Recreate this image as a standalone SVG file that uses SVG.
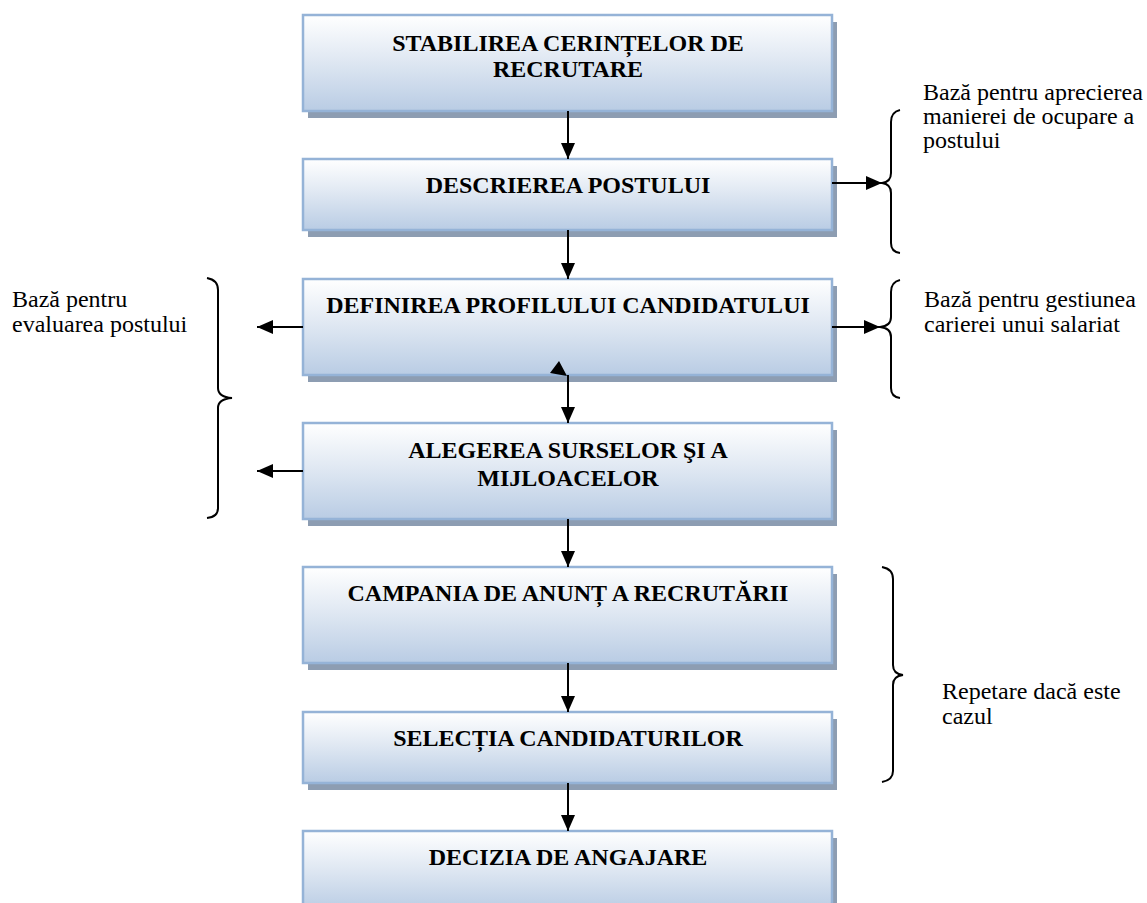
<svg xmlns="http://www.w3.org/2000/svg" width="1147" height="903" viewBox="0 0 1147 903">
<defs>
<linearGradient id="g" x1="0" y1="0" x2="0" y2="1">
<stop offset="0" stop-color="#ffffff"/>
<stop offset="0.45" stop-color="#e1e9f3"/>
<stop offset="1" stop-color="#b9cce4"/>
</linearGradient>
<marker id="ah" viewBox="0 0 16 14" refX="16" refY="7" markerWidth="16" markerHeight="14" orient="auto" markerUnits="userSpaceOnUse">
<path d="M0,0 L16,7 L0,14 z" fill="#000"/>
</marker>
<style>
.sh{fill:#8d9db2}
.bx{fill:url(#g);stroke:#95b3d7;stroke-width:2.5}
.t{font-family:"Liberation Serif","Times New Roman",serif;font-weight:bold;font-size:24px;fill:#000;text-anchor:middle}
.s{font-family:"Liberation Serif","Times New Roman",serif;font-size:24px;fill:#000}
.c{stroke:#000;stroke-width:2;fill:none}
.br{stroke:#000;stroke-width:2;fill:none}
</style>
</defs>
<rect width="1147" height="903" fill="#fff"/>

<g id="n1">
<rect class="sh" x="308" y="22" width="529" height="96"/>
<rect class="bx" x="303" y="15" width="529" height="96"/>
<text class="t" x="568" y="51">STABILIREA CERINȚELOR DE</text>
<text class="t" x="568" y="77">RECRUTARE</text>
</g>
<g id="n2">
<rect class="sh" x="308" y="166" width="529" height="71"/>
<rect class="bx" x="303" y="159" width="529" height="71"/>
<text class="t" x="568" y="193">DESCRIEREA POSTULUI</text>
</g>
<g id="n3">
<rect class="sh" x="308" y="286" width="529" height="96"/>
<rect class="bx" x="303" y="279" width="529" height="96"/>
<text class="t" x="568" y="313">DEFINIREA PROFILULUI CANDIDATULUI</text>
</g>
<g id="n4">
<rect class="sh" x="308" y="430" width="529" height="96"/>
<rect class="bx" x="303" y="423" width="529" height="96"/>
<text class="t" x="568" y="458">ALEGEREA SURSELOR ŞI A</text>
<text class="t" x="568" y="486">MIJLOACELOR</text>
</g>
<g id="n5">
<rect class="sh" x="308" y="574" width="529" height="96"/>
<rect class="bx" x="303" y="567" width="529" height="96"/>
<text class="t" x="568" y="601">CAMPANIA DE ANUNȚ A RECRUTĂRII</text>
</g>
<g id="n6">
<rect class="sh" x="308" y="719" width="529" height="71"/>
<rect class="bx" x="303" y="712" width="529" height="71"/>
<text class="t" x="568" y="746">SELECȚIA CANDIDATURILOR</text>
</g>
<g id="n7">
<rect class="sh" x="308" y="838" width="529" height="80"/>
<rect class="bx" x="303" y="831" width="529" height="80"/>
<text class="t" x="568" y="865">DECIZIA DE ANGAJARE</text>
</g>

<g id="connectors">
<path class="c" d="M568,111 V159" marker-end="url(#ah)"/>
<path class="c" d="M568,230 V279" marker-end="url(#ah)"/>
<path class="c" d="M568,375 V423" marker-end="url(#ah)"/>
<polygon points="559,361 550,373 567,376" fill="#000"/>
<path class="c" d="M568,519 V567" marker-end="url(#ah)"/>
<path class="c" d="M568,663 V712" marker-end="url(#ah)"/>
<path class="c" d="M568,783 V831" marker-end="url(#ah)"/>
<path class="c" d="M832,183 H882" marker-end="url(#ah)"/>
<path class="c" d="M832,327 H880" marker-end="url(#ah)"/>
<path class="c" d="M303,327 H257" marker-end="url(#ah)"/>
<path class="c" d="M303,471 H257" marker-end="url(#ah)"/>
</g>

<g id="brace1">
<path class="br" d="M900,110 Q891,112 891,122 V173 Q891,182 882,183 Q891,184 891,193 V243 Q891,252 900,253"/>
<text class="s" x="923" y="100">Bază pentru aprecierea</text>
<text class="s" x="923" y="124">manierei de ocupare a</text>
<text class="s" x="923" y="148">postului</text>
</g>
<g id="brace2">
<path class="br" d="M900,280 Q891,282 891,292 V317 Q891,326 880,327 Q891,328 891,337 V388 Q891,397 900,398"/>
<text class="s" x="924" y="307">Bază pentru gestiunea</text>
<text class="s" x="924" y="332">carierei unui salariat</text>
</g>
<g id="brace3">
<path class="br" d="M207,278 Q218,280 218,290 V388 Q218,397 232,398 Q218,399 218,408 V508 Q218,517 207,518"/>
<text class="s" x="12" y="307">Bază pentru</text>
<text class="s" x="12" y="332">evaluarea postului</text>
</g>
<g id="brace4">
<path class="br" d="M882,567 Q893,569 893,579 V665 Q893,674 903,675 Q893,676 893,685 V771 Q893,780 882,782"/>
<text class="s" x="942" y="699">Repetare dacă este</text>
<text class="s" x="942" y="724">cazul</text>
</g>
</svg>
